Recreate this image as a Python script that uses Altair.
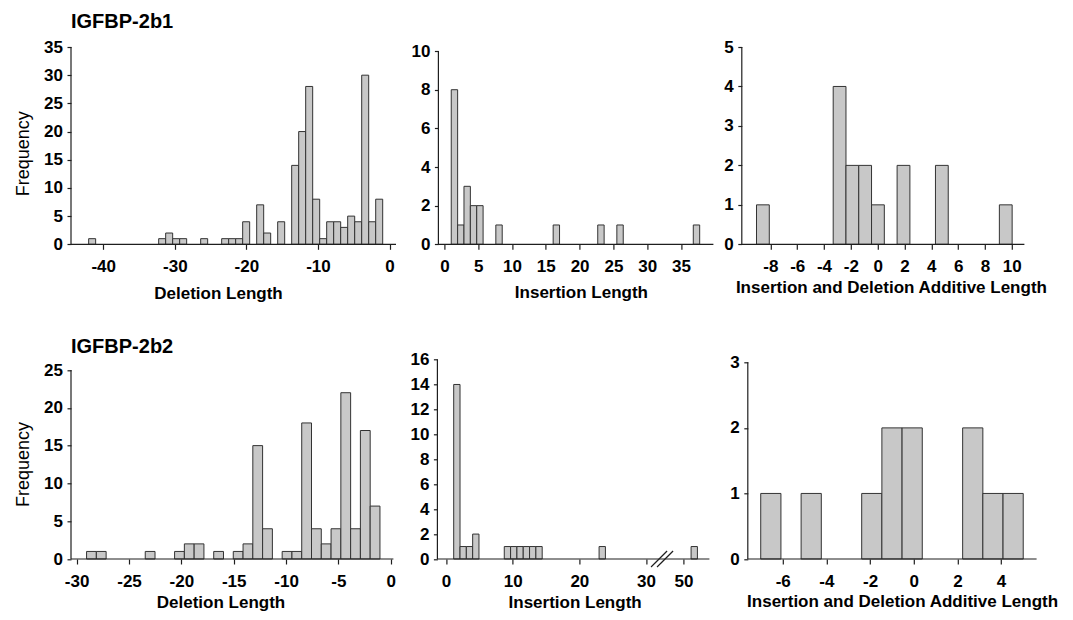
import altair as alt
import pandas as pd

FONT = "Liberation Sans"
INK = "#1e1e1e"
BAR_FILL = "#c8c8c8"
BAR_EDGE = "#333333"

# ---------------- data (length value, frequency) ----------------
del1_len = [-42, -32, -31, -30, -29, -26, -23, -22, -21, -20, -18, -17, -15,
            -13, -12, -11, -10, -9, -8, -7, -6, -5, -4, -3, -2, -1]
del1_freq = [1, 1, 2, 1, 1, 1, 1, 1, 1, 4, 7, 2, 4,
             14, 20, 28, 8, 1, 4, 4, 3, 5, 4, 30, 4, 8]

ins1_len = [1, 2, 3, 4, 5, 8, 17, 24, 27, 39]
ins1_freq = [8, 1, 3, 2, 2, 1, 1, 1, 1, 1]

add1_len = [-9, -3, -2, -1, 0, 2, 5, 10]
add1_freq = [1, 4, 2, 2, 1, 2, 2, 1]

del2_len = [-30, -29, -24, -21, -20, -19, -17, -15, -14, -13, -12, -10, -9,
            -8, -7, -6, -5, -4, -3, -2, -1]
del2_freq = [1, 1, 1, 1, 2, 2, 1, 1, 2, 15, 4, 1, 1,
             18, 4, 2, 4, 22, 4, 17, 7]

ins2_len = [1, 2, 3, 4, 9, 10, 11, 12, 13, 14, 24, 51]
ins2_freq = [14, 1, 1, 2, 1, 1, 1, 1, 1, 1, 1, 1]

add2_len = [-7, -5, -2, -1, 0, 3, 4, 5]
add2_freq = [1, 1, 1, 2, 2, 2, 1, 1]

# ---------------- tick labels ----------------
x1_ticks = [-40, -30, -20, -10, 0]
x2_ticks = [0, 5, 10, 15, 20, 25, 30, 35]
x3_ticks = [-8, -6, -4, -2, 0, 2, 4, 6, 8, 10]
x4_ticks = [-30, -25, -20, -15, -10, -5, 0]
x5_ticks = [0, 10, 20, 30, 50]
x6_ticks = [-6, -4, -2, 0, 2, 4]

y1_ticks = [0, 5, 10, 15, 20, 25, 30, 35]
y2_ticks = [0, 2, 4, 6, 8, 10]
y3_ticks = [0, 1, 2, 3, 4, 5]
y4_ticks = [0, 5, 10, 15, 20, 25]
y5_ticks = [0, 2, 4, 6, 8, 10, 12, 14, 16]
y6_ticks = [0, 1, 2, 3]

# broken axis in the lower insertion panel: values after the break are shown from 50
BREAK_FROM = 50
BREAK_AT = 35.6

TOP_H = 197.3
BOT_H = 199.7
GAP = 28.4
COL1_W = 337.9
COL2_W = 276.0

PLAIN_LABEL = "(datum.value < 0 ? '-' : '') + format(abs(datum.value), 'd')"


def bar_table(lens, freqs, a, s, w, broken=False):
    rows = []
    for v, f in zip(lens, freqs):
        if broken and v > 30:
            c = BREAK_AT + a + s * (v - BREAK_FROM)
        else:
            c = a + s * v
        rows.append({"len": v, "x0": c - w / 2, "x1": c + w / 2, "f": f})
    return pd.DataFrame(rows)


def panel(df, xdom, xvals, ydom, yvals, width, height, xtitle, tx, ty,
          lead=0.0, total=None, ytitle=None, ytx=0, yty=0, ptitle=None, pty=0,
          labelexpr=PLAIN_LABEL, breakmarks=None):
    # lead / extra: blank room left / right of the axes so panels sit where they should
    total = total if total is not None else width + lead
    extra = total - width - lead
    upp = (xdom[1] - xdom[0]) / width
    xleft = xdom[0] - lead * upp
    xright = xdom[1] + extra * upp
    xaxis = alt.Axis(values=xvals, tickSize=5, labelPadding=9.5, title=xtitle,
                     titleX=tx + lead, titleY=ty, titleAlign="center",
                     titleBaseline="middle", domain=False, labelExpr=labelexpr)
    yaxis_kw = dict(values=yvals, tickSize=4, labelPadding=4.5, domain=False,
                    labelExpr=PLAIN_LABEL, offset=-lead)
    if ytitle:
        yaxis_kw.update(title=ytitle, titleX=ytx, titleY=yty, titleAngle=270,
                        titleAlign="center", titleBaseline="middle",
                        titleFontWeight="normal", titleFontSize=18)
    else:
        yaxis_kw["title"] = None
    yaxis = alt.Axis(**yaxis_kw)
    xscale = alt.Scale(domain=[xleft, xright], nice=False, zero=False)
    yscale = alt.Scale(domain=ydom, nice=False, zero=True)

    bars = alt.Chart(df).mark_rect(fill=BAR_FILL, stroke=BAR_EDGE, strokeWidth=1).encode(
        x=alt.X("x0:Q", scale=xscale, axis=xaxis),
        x2="x1:Q",
        y=alt.Y("f:Q", scale=yscale, axis=yaxis),
        y2=alt.datum(0),
    )
    # axis lines drawn as rules so that they stop at the last tick, as in the reference
    yline = alt.Chart(pd.DataFrame({"f": [0], "f2": [yvals[-1]]})).mark_rule(
        color=INK, strokeWidth=1.2).encode(
        x=alt.value(lead), y=alt.Y("f:Q", scale=yscale, axis=yaxis), y2="f2:Q")
    xline = alt.Chart(pd.DataFrame({"x0": [xdom[0]], "x1": [xdom[1]]})).mark_rule(
        color=INK, strokeWidth=1.2).encode(
        x=alt.X("x0:Q", scale=xscale, axis=xaxis), x2="x1:Q", y=alt.value(height))
    layers = [bars, yline, xline]
    if ptitle:
        layers.append(alt.Chart(pd.DataFrame({"t": [ptitle]})).mark_text(
            align="left", baseline="alphabetic", font=FONT, fontSize=20,
            fontWeight="bold", color="black").encode(
            text="t:N", x=alt.value(lead), y=alt.value(pty)))
    if breakmarks is not None:
        layers.append(alt.Chart(breakmarks).mark_rule(color=INK, strokeWidth=1.2).encode(
            x=alt.X("x0:Q", scale=xscale, axis=xaxis), x2="x1:Q",
            y=alt.value(height + 8), y2=alt.value(height - 8)))
    return alt.layer(*layers).properties(width=total, height=height)


p1 = panel(bar_table(del1_len, del1_freq, -0.47, 0.978, 0.978),
           [-44.5, 0.9], x1_ticks, [0, 35], y1_ticks, 325, TOP_H,
           "Deletion Length", 147, 49, total=COL1_W,
           ytitle="Frequency", ytx=-47.7, yty=106.3,
           ptitle="IGFBP-2b1", pty=-19.4)
p2 = panel(bar_table(ins1_len, ins1_freq, 0.54, 0.9425, 0.945),
           [-0.89, 39.8], x2_ticks, [0, 10.21], y2_ticks, 275, TOP_H,
           "Insertion Length", 142.5, 48, lead=1.0, total=COL2_W)
p3 = panel(bar_table(add1_len, add1_freq, 0.02, 0.953, 0.953),
           [-10.13, 10.94], x3_ticks, [0, 5], y3_ticks, 282.6, TOP_H,
           "Insertion and Deletion Additive Length", 149.1, 43.3)

p4 = panel(bar_table(del2_len, del2_freq, -0.566, 0.934, 0.934),
           [-30.54, 0.25], x4_ticks, [0, 26.42], y4_ticks, 322.4, BOT_H,
           "Deletion Length", 149.5, 43.5, total=COL1_W,
           ytitle="Frequency", ytx=-47.7, yty=104.7,
           ptitle="IGFBP-2b2", pty=-6.5)
x5_pos = [t if t <= 30 else BREAK_AT + (t - BREAK_FROM) for t in x5_ticks]
brk = pd.DataFrame({"x0": [BREAK_AT - 4.85, BREAK_AT - 3.95],
                    "x1": [BREAK_AT - 2.45, BREAK_AT - 1.55]})
p5 = panel(bar_table(ins2_len, ins2_freq, 0.68, 0.948, 0.948, broken=True),
           [-1.29, 39.5], x5_pos, [0, 16.02], y5_ticks, 272, BOT_H,
           "Insertion Length", 137.2, 43.5, total=COL2_W,
           labelexpr="datum.value > 31 ? '50' : format(datum.value, 'd')",
           breakmarks=brk)
p6 = panel(bar_table(add2_len, add2_freq, -0.07, 0.925, 0.925),
           [-7.6, 5.63], x6_ticks, [0, 3.046], y6_ticks, 288.8, BOT_H,
           "Insertion and Deletion Additive Length", 154.3, 42.7, lead=6.0)

chart = alt.concat(
    p1, p2, p3, p4, p5, p6, columns=3, align="none", bounds="flush",
    spacing={"row": 114.3, "column": GAP},
).properties(
    padding={"left": 6, "top": 3, "right": 0, "bottom": 0}
).configure_view(stroke=None).configure_axis(
    labelFont=FONT, labelFontSize=17, labelFontWeight="bold", labelColor="black",
    titleFont=FONT, titleFontSize=17, titleFontWeight="bold", titleColor="black",
    domainColor=INK, tickColor=INK, domainWidth=1.2, tickWidth=1.2, grid=False,
    labelFlush=False, labelOverlap=False,
)

chart.save("out.html", embed_options={"renderer": "svg", "actions": False})
